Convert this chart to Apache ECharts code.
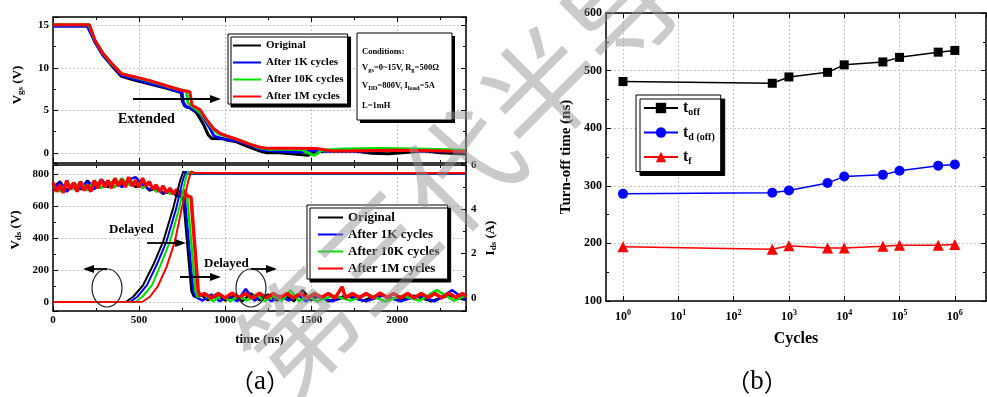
<!DOCTYPE html>
<html><head><meta charset="utf-8">
<script src="https://cdn.jsdelivr.net/npm/echarts@6/dist/echarts.min.js"></script>
<style>html,body{margin:0;padding:0;background:#fff}#c{width:987px;height:397px}</style>
</head><body><div id="c"></div>
<script>
// ---------------- DATA ----------------
const seriesNames = ['Original', 'After 1K cycles', 'After 10K cycles', 'After 1M cycles'];
const seriesColors = ['#000000', '#0000ff', '#00e000', '#ff0000'];

// (a) top: Vgs (V) vs time (ns)
const vgsOriginal = [[0,15.0],[205,15.0],[243,13.1],[291,11.5],[340,10.3],[398,9.0],[466,8.6],[563,8.1],[660,7.6],[745,7.1],[752,6.1],[766,5.5],[796,5.3],[835,4.7],[873,3.4],[902,2.1],[922,1.7],[990,1.65],[1010,1.5],[1067,1.3],[1125,0.8],[1203,0.2],[1242,0.0],[1300,0.05],[1400,-0.15],[1480,-0.3],[1530,0.1],[1600,0.25],[1750,0.2],[1850,-0.05],[1950,-0.1],[2050,0.05],[2150,0.25],[2250,0.0],[2400,-0.15]];
const vgsAfter1K = [[0,14.9],[200,14.9],[243,13.1],[291,11.5],[340,10.4],[398,9.1],[466,8.75],[563,8.2],[660,7.7],[750,7.1],[757,5.9],[775,5.4],[800,5.3],[835,4.9],[864,4.4],[890,3.6],[912,2.9],[935,2.0],[960,1.8],[1000,1.6],[1070,1.4],[1130,1.0],[1222,0.3],[1300,0.2],[1400,0.1],[1500,0.2],[1650,0.25],[1800,0.2],[2000,0.3],[2200,0.2],[2400,0.15]];
const vgsAfter10K = [[0,15.1],[208,15.1],[243,13.3],[291,11.7],[340,10.5],[398,9.35],[466,8.95],[563,8.45],[660,7.85],[776,7.25],[784,5.9],[800,5.6],[840,5.0],[870,4.4],[900,3.6],[930,2.8],[965,2.2],[1000,2.0],[1067,1.6],[1140,1.05],[1200,0.6],[1260,0.4],[1350,0.45],[1450,0.35],[1500,-0.2],[1520,-0.3],[1560,0.3],[1700,0.45],[1900,0.5],[2100,0.45],[2300,0.35],[2400,0.3]];
const vgsAfter1M = [[0,15.1],[212,15.1],[243,13.3],[291,11.7],[340,10.55],[398,9.3],[466,9.0],[563,8.5],[660,7.9],[740,7.4],[795,7.2],[808,5.6],[854,5.1],[893,3.9],[931,2.9],[970,2.3],[1009,2.0],[1067,1.6],[1145,1.0],[1203,0.65],[1240,0.55],[1400,0.55],[1530,0.5],[1630,0.2],[1800,0.25],[2000,0.3],[2200,0.25],[2400,0.15]];

// (a) bottom: Vds (V) vs time (ns)
const vdsOriginal = [[0,0],[425,2],[466,33],[524,106],[582,231],[640,377],[698,585],[737,752],[757,815],[775,802],[2400,802]];
const vdsAfter1K = [[0,0],[450,2],[490,33],[546,106],[602,231],[659,377],[716,585],[752,752],[771,815],[790,802],[2400,802]];
const vdsAfter10K = [[0,0],[480,2],[520,33],[575,106],[625,231],[679,377],[733,585],[767,752],[785,815],[805,804],[2400,804]];
const vdsAfter1M = [[0,0],[520,2],[563,33],[610,100],[660,220],[708,377],[748,585],[785,752],[802,815],[825,806],[2400,806]];

// (a) bottom: Ids (A) vs time (ns)
const idsOriginal = [[0,5.0],[40,5.25],[80,4.85],[120,5.2],[160,4.9],[200,5.3],[240,4.95],[280,5.25],[320,5.0],[360,5.35],[400,5.05],[440,5.3],[480,5.0],[520,5.2],[560,4.85],[600,4.95],[640,4.7],[680,4.85],[720,4.6],[757,4.55],[805,0.3],[820,0.05],[850,0.2],[900,-0.1],[950,0.15],[1000,-0.12],[1050,0.1],[1100,-0.15],[1150,0.2],[1200,-0.1],[1250,0.15],[1300,-0.12],[1350,0.1],[1400,-0.15],[1450,0.35],[1500,-0.1],[1550,0.1],[1600,-0.15],[1700,0.1],[1800,-0.12],[1900,0.15],[2000,-0.1],[2100,0.1],[2200,-0.15],[2300,0.12],[2400,-0.1]];
const idsAfter1K = [[0,4.95],[40,5.2],[80,4.8],[120,5.15],[160,4.95],[200,5.25],[240,4.9],[280,5.35],[320,5.05],[360,5.3],[400,5.0],[440,5.35],[480,5.45],[520,5.1],[560,4.9],[600,5.0],[640,4.75],[680,4.8],[720,4.65],[765,4.55],[815,0.3],[830,0.05],[870,-0.12],[920,0.15],[970,-0.15],[1020,0.1],[1070,-0.15],[1120,0.4],[1170,-0.12],[1220,0.12],[1270,-0.15],[1320,0.1],[1370,-0.12],[1420,0.15],[1470,-0.15],[1520,0.1],[1620,-0.15],[1720,0.1],[1820,-0.15],[1920,0.12],[2020,-0.15],[2120,0.1],[2220,-0.15],[2320,0.35],[2400,-0.1]];
const idsAfter10K = [[0,5.05],[40,4.8],[80,5.2],[120,4.9],[160,5.25],[200,4.85],[240,5.3],[280,4.95],[320,5.3],[360,5.0],[400,5.4],[440,5.1],[480,5.3],[520,4.95],[560,5.15],[600,4.8],[640,4.95],[680,4.7],[720,4.75],[780,4.55],[828,0.3],[840,0.05],[880,0.15],[930,-0.15],[980,0.12],[1030,-0.15],[1080,0.1],[1130,-0.12],[1180,0.15],[1230,-0.15],[1280,0.1],[1330,-0.12],[1380,0.35],[1430,-0.15],[1480,0.12],[1530,-0.15],[1630,0.1],[1730,-0.12],[1830,0.15],[1930,-0.15],[2030,0.1],[2130,-0.12],[2230,0.35],[2330,-0.12],[2400,0.1]];
const idsAfter1M = [[0,5.2],[20,4.8],[40,5.1],[60,4.75],[80,5.3],[100,4.9],[120,5.2],[140,4.8],[160,5.25],[180,4.85],[200,5.1],[220,4.8],[240,5.3],[260,4.95],[280,5.35],[300,5.0],[320,5.3],[340,4.95],[360,5.4],[380,5.05],[400,5.35],[420,5.0],[440,5.45],[460,5.05],[480,5.3],[500,5.0],[520,5.4],[540,5.05],[560,5.25],[580,4.9],[600,5.1],[620,4.8],[640,5.05],[660,4.75],[680,4.95],[700,4.7],[720,4.9],[740,4.65],[760,4.85],[780,4.6],[802,4.55],[844,0.3],[855,0.1],[880,0.2],[920,0.0],[960,0.2],[1000,0.0],[1040,0.22],[1080,0.02],[1120,0.2],[1160,-0.02],[1200,0.22],[1240,0.0],[1280,0.2],[1320,0.02],[1360,0.2],[1400,0.0],[1440,0.22],[1480,0.0],[1520,0.2],[1560,0.02],[1600,0.2],[1640,0.0],[1680,0.5],[1700,0.0],[1740,0.2],[1780,0.02],[1820,0.2],[1860,0.0],[1900,0.22],[1940,0.02],[1980,0.2],[2020,0.0],[2060,0.2],[2100,0.0],[2140,0.2],[2180,0.02],[2220,0.2],[2260,0.0],[2300,0.22],[2340,0.02],[2380,0.2],[2400,0.05]];

// (b) turn-off times (ns) vs cycles
const cycles = [1, 500, 1000, 5000, 10000, 50000, 100000, 500000, 1000000];
const tOff   = [481, 478, 489, 497, 510, 515, 523, 532, 535];
const tdOff  = [286, 288, 292, 305, 316, 319, 326, 335, 337];
const tFall  = [194, 190, 196, 192, 192, 195, 197, 197, 198];

// ---------------- CHART ----------------
const SERIF = '"Liberation Serif", "Times New Roman", serif';
const CJK = '"Noto Sans CJK SC", sans-serif';
const chart = echarts.init(document.getElementById('c'), null, {renderer: 'canvas'});

const lineAx = {show: true, onZero: false, lineStyle: {color: '#000', width: 1.5}};
const tickIn = {show: true, inside: true, length: 5, lineStyle: {color: '#000', width: 1}};
const minorIn = {show: true, splitNumber: 2, length: 3, lineStyle: {color: '#000', width: 1}};
const dotted = {show: true, lineStyle: {color: '#c4c4c4', type: [2, 2], width: 1}};
const lblStyle = {color: '#000', fontFamily: SERIF, fontWeight: 'bold', fontSize: 11};
const nameRich = {
  a: {fontFamily: SERIF, fontWeight: 'bold', fontSize: 13, color: '#000'},
  s: {fontFamily: SERIF, fontWeight: 'bold', fontSize: 9, color: '#000', padding: [5, 0, 0, 0]}
};

function timeX(gridIndex, pos, labels) {
  return {
    type: 'value', gridIndex, position: pos, min: 0, max: 2400, interval: 500,
    axisLine: lineAx, axisTick: tickIn, minorTick: Object.assign({}, minorIn, {show: true}),
    axisLabel: labels ? Object.assign({show: true, margin: 4, showMaxLabel: false, formatter: (v) => String(v)}, lblStyle) : {show: false},
    splitLine: pos === 'bottom' ? dotted : {show: false},
    name: labels ? 'time (ns)' : '', nameLocation: 'middle', nameGap: 22,
    nameTextStyle: {fontFamily: SERIF, fontWeight: 'bold', fontSize: 13, color: '#000'}
  };
}

const toLog = (v) => {
  const e = Math.round(Math.log10(v));
  if (Math.abs(Math.log10(v) - e) > 0.01) return '';
  return '{a|10}{b|' + e + '}';
};

const option = {
  animation: false,
  backgroundColor: '#fff',
  grid: [
    {left: 53, top: 17, width: 413, height: 146, outerBoundsMode: 'none'},
    {left: 53, top: 165, width: 413, height: 146, outerBoundsMode: 'none'},
    {left: 606, top: 13, width: 380, height: 288, outerBoundsMode: 'none'}
  ],
  xAxis: [
    timeX(0, 'bottom', false),
    timeX(0, 'top', false),
    timeX(1, 'bottom', true),
    timeX(1, 'top', false),
    {
      type: 'log', gridIndex: 2, position: 'bottom', min: 0.493, max: 3.66e6, logBase: 10, splitNumber: 7,
      axisLine: lineAx, axisTick: tickIn,
      axisLabel: {show: true, margin: 8, showMinLabel: false, showMaxLabel: false, formatter: toLog,
        rich: {a: {fontFamily: SERIF, fontWeight: 'bold', fontSize: 12, color: '#000'},
               b: {fontFamily: SERIF, fontWeight: 'bold', fontSize: 8, color: '#000', padding: [0, 0, 7, 0]}}},
      splitLine: dotted,
      name: 'Cycles', nameLocation: 'middle', nameGap: 30,
      nameTextStyle: {fontFamily: SERIF, fontWeight: 'bold', fontSize: 16, color: '#000'}
    },
    {
      type: 'log', gridIndex: 2, position: 'top', min: 0.493, max: 3.66e6, logBase: 10, splitNumber: 7,
      axisLine: lineAx, axisTick: tickIn, axisLabel: {show: false}, splitLine: {show: false}
    }
  ],
  yAxis: [
    {
      type: 'value', gridIndex: 0, position: 'left', min: -1.2, max: 16, splitNumber: 4,
      axisLine: lineAx, axisTick: tickIn, minorTick: minorIn,
      axisLabel: Object.assign({show: true, margin: 4, showMinLabel: false, showMaxLabel: false}, lblStyle),
      splitLine: dotted,
      name: '{a|V}{s|gs}{a| (V)}', nameLocation: 'middle', nameGap: 28, nameRotate: 90,
      nameTextStyle: {rich: nameRich, padding: [0, 0, 0, 10]}
    },
    {
      type: 'value', gridIndex: 0, position: 'right', min: -1.2, max: 16, splitNumber: 4,
      axisLine: lineAx, axisTick: tickIn, minorTick: minorIn, axisLabel: {show: false}, splitLine: {show: false}
    },
    {
      type: 'value', gridIndex: 1, position: 'left', min: -56, max: 856, splitNumber: 5,
      axisLine: lineAx, axisTick: tickIn, minorTick: minorIn,
      axisLabel: Object.assign({show: true, margin: 4, showMinLabel: false, showMaxLabel: false}, lblStyle),
      splitLine: dotted,
      name: '{a|V}{s|ds}{a| (V)}', nameLocation: 'middle', nameGap: 30, nameRotate: 90,
      nameTextStyle: {rich: nameRich, padding: [0, 0, 0, 16]}
    },
    {
      type: 'value', gridIndex: 1, position: 'right', min: -0.59, max: 6, splitNumber: 3,
      axisLine: lineAx, axisTick: tickIn, minorTick: minorIn,
      axisLabel: Object.assign({show: true, margin: 5, showMinLabel: false}, lblStyle),
      splitLine: {show: false},
      name: '{a|I}{s|ds}{a| (A)}', nameLocation: 'middle', nameGap: 18, nameRotate: 90,
      nameTextStyle: {rich: nameRich}
    },
    {
      type: 'value', gridIndex: 2, position: 'left', min: 100, max: 600, interval: 100,
      axisLine: lineAx, axisTick: tickIn, minorTick: minorIn,
      axisLabel: {show: true, margin: 4, color: '#000', fontFamily: SERIF, fontWeight: 'bold', fontSize: 12},
      splitLine: dotted,
      name: 'Turn-off time (ns)', nameLocation: 'middle', nameGap: 32, nameRotate: 90,
      nameTextStyle: {fontFamily: SERIF, fontWeight: 'bold', fontSize: 15, color: '#000'}
    },
    {
      type: 'value', gridIndex: 2, position: 'right', min: 100, max: 600, interval: 100,
      axisLine: lineAx, axisTick: tickIn, minorTick: minorIn, axisLabel: {show: false}, splitLine: {show: false}
    }
  ],
  legend: [
    {
      data: seriesNames, left: 228, top: 34, orient: 'vertical', icon: 'rect',
      itemWidth: 28, itemHeight: 2, itemGap: 6, padding: [6, 4, 2, 5],
      backgroundColor: '#fff', borderColor: '#000', borderWidth: 1, borderRadius: 0,
      shadowColor: '#000', shadowBlur: 0, shadowOffsetX: 3, shadowOffsetY: 3,
      textStyle: {fontFamily: SERIF, fontWeight: 'bold', fontSize: 11, color: '#000'},
      selectedMode: false
    },
    {
      data: seriesNames, left: 307, top: 205, orient: 'vertical', icon: 'rect',
      itemWidth: 25, itemHeight: 2, itemGap: 4, padding: [6, 8, 4, 11],
      backgroundColor: '#fff', borderColor: '#000', borderWidth: 1, borderRadius: 0,
      shadowColor: '#000', shadowBlur: 0, shadowOffsetX: 3, shadowOffsetY: 3,
      textStyle: {fontFamily: SERIF, fontWeight: 'bold', fontSize: 13, color: '#000'},
      selectedMode: false
    },
    {
      data: ['toff', 'tdoff', 'tf'], left: 636, top: 95, orient: 'vertical',
      itemWidth: 34, itemHeight: 13, itemGap: 7, padding: [5, 6, 5, 7],
      backgroundColor: '#fff', borderColor: '#000', borderWidth: 1, borderRadius: 0,
      shadowColor: '#000', shadowBlur: 0, shadowOffsetX: 4, shadowOffsetY: 4,
      formatter: (n) => ({toff: '{t|t}{s|off}', tdoff: '{t|t}{s|d (off)}', tf: '{t|t}{s|f}'}[n]),
      textStyle: {rich: {
        t: {fontFamily: SERIF, fontWeight: 'bold', fontSize: 16, color: '#000'},
        s: {fontFamily: SERIF, fontWeight: 'bold', fontSize: 10, color: '#000', padding: [9, 0, 0, 0]}
      }},
      selectedMode: false
    }
  ],
  series: []
};

const vgsSets = [vgsOriginal, vgsAfter1K, vgsAfter10K, vgsAfter1M];
const vdsSets = [vdsOriginal, vdsAfter1K, vdsAfter10K, vdsAfter1M];
const idsSets = [idsOriginal, idsAfter1K, idsAfter10K, idsAfter1M];
seriesNames.forEach((name, i) => {
  option.series.push({name, type: 'line', xAxisIndex: 0, yAxisIndex: 0, data: vgsSets[i],
    symbol: 'none', color: seriesColors[i], lineStyle: {width: 3, color: seriesColors[i]}, z: 2 + i});
});
seriesNames.forEach((name, i) => {
  option.series.push({name, type: 'line', xAxisIndex: 2, yAxisIndex: 3, data: idsSets[i],
    symbol: 'none', color: seriesColors[i], lineStyle: {width: i === 3 ? 3.5 : 2.5, color: seriesColors[i]}, z: 2 + i});
});
seriesNames.forEach((name, i) => {
  option.series.push({name, type: 'line', xAxisIndex: 2, yAxisIndex: 2, data: vdsSets[i],
    symbol: 'none', color: seriesColors[i], lineStyle: {width: 2, color: seriesColors[i]}, z: 6 + i});
});
const bSets = [['toff', tOff, '#000000', 'rect', 9], ['tdoff', tdOff, '#0000ff', 'circle', 10], ['tf', tFall, '#ff0000', 'triangle', 11]];
bSets.forEach(([name, vals, col, sym, size]) => {
  option.series.push({name, type: 'line', xAxisIndex: 4, yAxisIndex: 4,
    data: cycles.map((c, i) => [c, vals[i]]),
    symbol: sym, symbolSize: size, showSymbol: true, color: col,
    itemStyle: {color: col}, lineStyle: {width: 1.5, color: col}});
});

function txt(x, y, text, size, extra) {
  return {type: 'text', x, y, z: 50, style: Object.assign({
    text, fontFamily: SERIF, fontWeight: 'bold', fontSize: size, fill: '#000',
    align: 'left', verticalAlign: 'middle', textAlign: 'left', textVerticalAlign: 'middle'}, extra || {})};
}
function arrow(x1, x2, y) {
  const dir = x2 > x1 ? 1 : -1;
  return [
    {type: 'line', z: 50, shape: {x1, y1: y, x2: x2 - dir * 8, y2: y}, style: {stroke: '#000', lineWidth: 1.8}},
    {type: 'polygon', z: 50, shape: {points: [[x2, y], [x2 - dir * 11, y - 4], [x2 - dir * 11, y + 4]]}, style: {fill: '#000'}}
  ];
}
const subRich = {
  b: {fontFamily: SERIF, fontWeight: 'bold', fontSize: 8.5, fill: '#000'},
  s: {fontFamily: SERIF, fontWeight: 'bold', fontSize: 6.5, fill: '#000', padding: [4, 0, 0, 0]}
};
const panelRich = {
  p: {fontFamily: CJK, fontSize: 24, fill: '#000'},
  a: {fontFamily: SERIF, fontSize: 27, fill: '#000'}
};

option.graphic = {elements: [].concat(
  [
    {type: 'rect', z: 48, shape: {x: 360, y: 36, width: 95, height: 87}, style: {fill: '#000'}},
    {type: 'rect', z: 49, shape: {x: 357, y: 33, width: 95, height: 87}, style: {fill: '#fff', stroke: '#000', lineWidth: 1}},
    txt(362, 52, '{b|Conditions:}', 8.5, {rich: subRich}),
    txt(362, 68, '{b|V}{s|gs}{b|=0~15V, R}{s|g}{b|=500Ω}', 8.5, {rich: subRich}),
    txt(362, 86, '{b|V}{s|DD}{b|=800V, I}{s|load}{b|=5A}', 8.5, {rich: subRich}),
    txt(362, 106, '{b|L=1mH}', 8.5, {rich: subRich}),
    txt(118, 119, 'Extended', 14),
    txt(109, 230, 'Delayed', 13),
    txt(204, 264, 'Delayed', 13),
    {type: 'ellipse', z: 50, shape: {cx: 107, cy: 288, rx: 15, ry: 19}, style: {fill: 'none', stroke: '#222', lineWidth: 1.2}},
    {type: 'ellipse', z: 50, shape: {cx: 251, cy: 288, rx: 15, ry: 19}, style: {fill: 'none', stroke: '#222', lineWidth: 1.2}},
    {type: 'text', x: 260, y: 382, z: 50, style: {text: '{p|（}{a|a}{p|）}', rich: panelRich, align: 'center', verticalAlign: 'middle', textAlign: 'center', textVerticalAlign: 'middle'}},
    {type: 'text', x: 757, y: 382, z: 50, style: {text: '{p|（}{a|b}{p|）}', rich: panelRich, align: 'center', verticalAlign: 'middle', textAlign: 'center', textVerticalAlign: 'middle'}},
    {type: 'text', x: 257, y: 373, rotation: Math.PI / 4, z: 100, silent: true,
      style: {text: '第三代半导体', fontFamily: CJK, fontSize: 115, fill: 'rgba(150,150,150,0.5)', align: 'left', verticalAlign: 'middle', textAlign: 'left', textVerticalAlign: 'middle'}}
  ],
  arrow(133, 221, 99),
  arrow(147, 186, 243),
  arrow(180, 221, 277),
  arrow(107, 83, 269),
  arrow(251, 277, 269)
)};

chart.setOption(option);
</script>
</body></html>
